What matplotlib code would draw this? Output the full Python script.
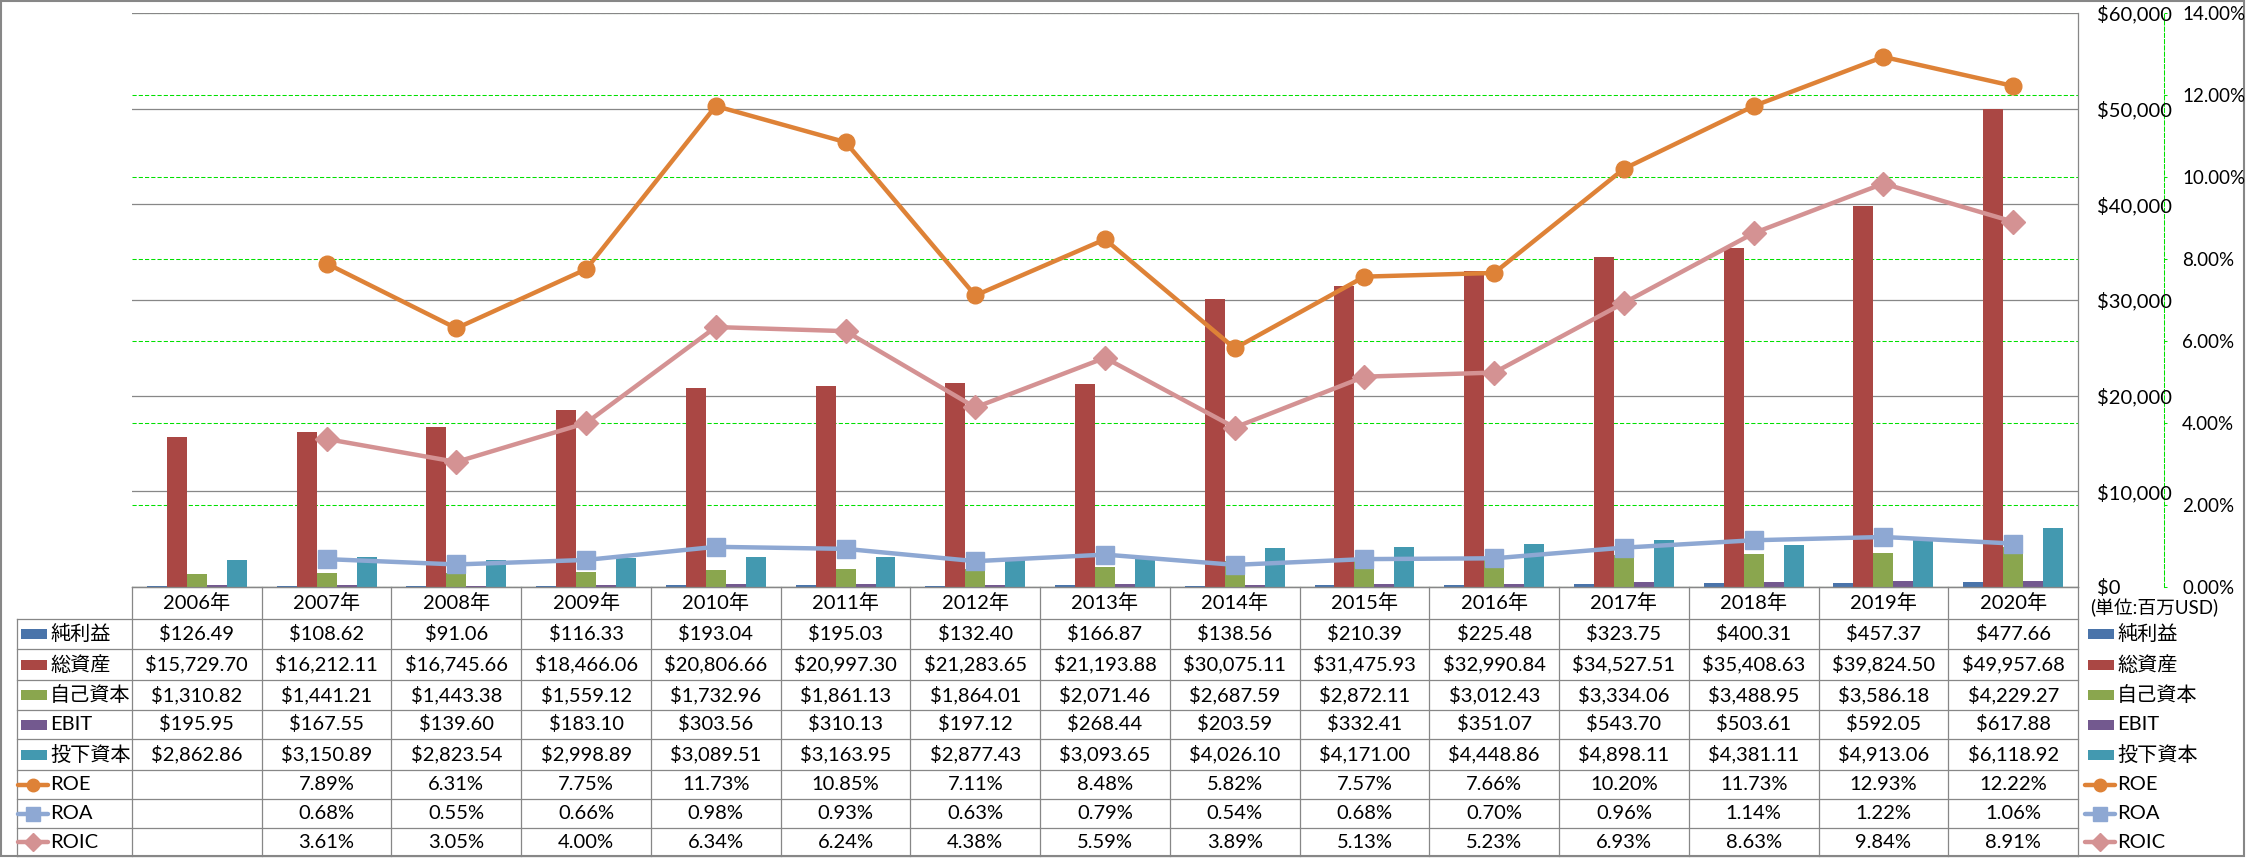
import numpy as np
import matplotlib
matplotlib.use("Agg")
import matplotlib.pyplot as plt
from matplotlib.patches import Rectangle

plt.rcParams['font.family'] = ['Lato', 'Noto Sans CJK JP', 'DejaVu Sans']

years = ['2006年', '2007年', '2008年', '2009年', '2010年', '2011年', '2012年', '2013年',
         '2014年', '2015年', '2016年', '2017年', '2018年', '2019年', '2020年']

net_income = [126.49, 108.62, 91.06, 116.33, 193.04, 195.03, 132.40, 166.87,
              138.56, 210.39, 225.48, 323.75, 400.31, 457.37, 477.66]
total_assets = [15729.70, 16212.11, 16745.66, 18466.06, 20806.66, 20997.30, 21283.65, 21193.88,
                30075.11, 31475.93, 32990.84, 34527.51, 35408.63, 39824.50, 49957.68]
equity = [1310.82, 1441.21, 1443.38, 1559.12, 1732.96, 1861.13, 1864.01, 2071.46,
          2687.59, 2872.11, 3012.43, 3334.06, 3488.95, 3586.18, 4229.27]
ebit = [195.95, 167.55, 139.60, 183.10, 303.56, 310.13, 197.12, 268.44,
        203.59, 332.41, 351.07, 543.70, 503.61, 592.05, 617.88]
invested = [2862.86, 3150.89, 2823.54, 2998.89, 3089.51, 3163.95, 2877.43, 3093.65,
            4026.10, 4171.00, 4448.86, 4898.11, 4381.11, 4913.06, 6118.92]

roe = [np.nan, 7.89, 6.31, 7.75, 11.73, 10.85, 7.11, 8.48, 5.82, 7.57, 7.66, 10.20, 11.73, 12.93, 12.22]
roa = [np.nan, 0.68, 0.55, 0.66, 0.98, 0.93, 0.63, 0.79, 0.54, 0.68, 0.70, 0.96, 1.14, 1.22, 1.06]
roic = [np.nan, 3.61, 3.05, 4.00, 6.34, 6.24, 4.38, 5.59, 3.89, 5.13, 5.23, 6.93, 8.63, 9.84, 8.91]

bar_names = ['純利益', '総資産', '自己資本', 'EBIT', '投下資本']
bar_series = [net_income, total_assets, equity, ebit, invested]
bar_colors = ['#4A74AA', '#AA4744', '#8AA64E', '#73598F', '#4399B0']

line_names = ['ROE', 'ROA', 'ROIC']
line_series = [roe, roa, roic]
line_colors = ['#DE8237', '#8EA8D3', '#D49293']
line_markers = ['o', 's', 'D']
marker_sizes = [12, 12.5, 12]

W, H = 2246, 858
fig = plt.figure(figsize=(W / 100, H / 100), dpi=100)
fig.patch.set_facecolor('white')


def box(l, t, r, b):
    return [l / W, 1 - b / H, (r - l) / W, (b - t) / H]


plot_l, plot_t, plot_r, plot_b = 132, 13, 2078, 587
ax = fig.add_axes(box(plot_l, plot_t, plot_r, plot_b))
ax2 = ax.twinx()
ax.set_zorder(ax2.get_zorder() + 1)
ax.patch.set_visible(False)

x = np.arange(len(years))
bw = 0.154
for i, (vals, c) in enumerate(zip(bar_series, bar_colors)):
    ax.bar(x + (i - 2) * bw, vals, width=bw, color=c, zorder=2)

for vals, c, m, ms in zip(line_series, line_colors, line_markers, marker_sizes):
    ax.plot(x, np.array(vals) / 100, transform=ax2.transData, color=c, lw=3.2,
            marker=m, ms=ms, mec=c, mfc=c, solid_capstyle='round', zorder=3)

ax.set_xlim(-0.5, len(years) - 0.5)
ax.set_ylim(0, 60000)
ax2.set_ylim(0, 0.14)
ax.set_xticks([])

grid_gray = '#878787'
green = '#00E000'

yt = np.arange(0, 60001, 10000)
ax.set_yticks(yt)
ax.set_yticklabels([f"${v:,.0f}" for v in yt])
ax.tick_params(axis='y', left=False, labelleft=False, right=False, labelright=True,
               length=0, pad=13.7, labelsize=14.5)
ax.grid(axis='y', color=grid_gray, lw=0.9)
ax.set_axisbelow(True)
for s in ['left', 'top']:
    ax.spines[s].set_visible(False)
for s in ['right', 'bottom']:
    ax.spines[s].set_color(grid_gray)
    ax.spines[s].set_linewidth(0.9)

pt = np.arange(0, 0.1401, 0.02)
ax2.set_yticks(pt)
ax2.set_yticklabels([f"{v * 100:.2f}%" for v in pt])
ax2.tick_params(axis='y', color=green, labelcolor='black', length=2, width=0.75,
                pad=11, labelsize=13.5)
ax2.grid(axis='y', color=green, lw=0.75, linestyle=(0, (4, 2)))
for s in ['left', 'top', 'bottom']:
    ax2.spines[s].set_visible(False)
ax2.spines['right'].set_position(('outward', 86 * 0.72))
ax2.spines['right'].set_color(green)
ax2.spines['right'].set_linewidth(0.75)
ax2.spines['right'].set_linestyle((0, (4, 2)))

# data table below the plot, drawn in pixel coordinates
tab = fig.add_axes([0, 0, 1, 1])
tab.set_xlim(0, W)
tab.set_ylim(H, 0)
tab.axis('off')
tab.set_zorder(-5)

rows_y = [587, 619, 649, 680, 710, 739, 770, 799, 828, 856]
leg_l = 17
colw = (plot_r - plot_l) / len(years)
lc = dict(color=grid_gray, lw=0.9)
fs = 14.5
fs_name = 14.5

tab.plot([plot_l, plot_r], [rows_y[0]] * 2, **lc)
for yy in rows_y[1:]:
    tab.plot([leg_l, plot_r], [yy, yy], **lc)
tab.plot([leg_l, leg_l], [rows_y[1], rows_y[-1]], **lc)
for k in range(len(years) + 1):
    xx = plot_l + k * colw
    tab.plot([xx, xx], [rows_y[0], rows_y[-1]], **lc)

for k, yr in enumerate(years):
    tab.text(plot_l + (k + 0.5) * colw, (rows_y[0] + rows_y[1]) / 2, yr,
             ha='center', va='center', fontsize=fs)

row_vals = [[f"${v:,.2f}" for v in s] for s in bar_series] + \
           [["" if np.isnan(v) else f"{v:.2f}%" for v in s] for s in line_series]
names = bar_names + line_names
for r, vals in enumerate(row_vals):
    cy = (rows_y[r + 1] + rows_y[r + 2]) / 2
    for k, s in enumerate(vals):
        tab.text(plot_l + (k + 0.5) * colw, cy, s, ha='center', va='center', fontsize=fs)


def legend_key(x0, cy, r):
    if r < len(bar_names):
        tab.add_patch(Rectangle((x0 + 3, cy - 5), 26, 10, color=bar_colors[r], lw=0))
    else:
        j = r - len(bar_names)
        tab.plot([x0, x0 + 15, x0 + 30], [cy] * 3, color=line_colors[j], lw=3.2,
                 marker=line_markers[j], ms=marker_sizes[j] * 0.75, markevery=[1],
                 solid_capstyle='round')


for r, name in enumerate(names):
    cy = (rows_y[r + 1] + rows_y[r + 2]) / 2
    legend_key(leg_l + 1, cy, r)
    tab.text(leg_l + 33, cy, name, ha='left', va='center', fontsize=fs_name)
    legend_key(2085, cy, r)
    tab.text(2117, cy, name, ha='left', va='center', fontsize=fs_name)

tab.text(2090, 608, '(単位:百万USD)', ha='left', va='center', fontsize=13.5)

tab.add_patch(Rectangle((1, 1), W - 3, H - 3, fill=False, ec=grid_gray, lw=1.5))

fig.savefig('out.png', dpi=100)
